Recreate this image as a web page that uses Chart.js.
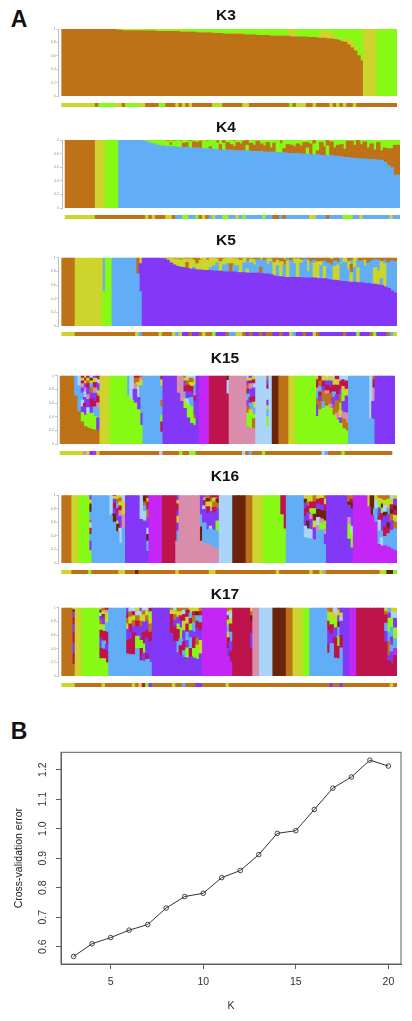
<!DOCTYPE html>
<html lang="en">
<head>
<meta charset="UTF-8">
<title>K3 to K17 admixture and cross-validation error</title>
<script src="https://cdn.jsdelivr.net/npm/chart.js"></script>
<style>
  html, body { margin: 0; padding: 0; background: #fff; }
  body { position: relative; width: 412px; height: 1021px; overflow: hidden; font-family: "Liberation Sans", Arial, sans-serif; }
  canvas { position: absolute; left: 0; }
  canvas.bars { filter: blur(0.4px); }
  canvas.line { filter: blur(0.25px); }
  .title { position: absolute; transform: translate(-50%, -50%); font-weight: bold; font-size: 15.5px; color: #111; }
  .letter { position: absolute; transform: translate(-50%, -50%); font-weight: bold; font-size: 23px; color: #111; }
</style>
</head>
<body>
<div class="letter" style="left:19px;top:19px">A</div>
<div class="letter" style="left:19px;top:731px">B</div>
<canvas id="cvChart" class="line" width="412" height="281" style="top:740px"></canvas>

<script>
// each bar is bottom-up "code percent" segments, "*n" repeats the bar n times
const k3Bars = ["O100*11","O99 Y1*5","O98 G1 Y1*2","O97 G1 Y2*6","O97 G2 Y1*4","O96 G2 Y2*4","O96 G4*3","O95 G3 Y2*3","O95 G5*2","O94 G4 Y2*2",
  "O94 G6*3","O93 G7*3","O92 G8*3","O92 Y2 G6*3","O91 G9*4","O90 G10*4","O89 G11*6","O88 Y12*2","O88 G12*3","O87 G13*3","O86 G14",
  "O86 Y10 G4*2","O85 Y10 G5*2","O84 Y4 G12","O83 Y3 G14","O81 G19","O80 Y4 G16","O76 Y10 G14","O72 Y10 G18","O67 Y6 G27","O60 G40","O52 G48",
  "Y100*4","G100*6"];
const k4Bars = ["O100*9","Y100*3","G100*4","B100*6","B99 G1","B98 G2","B97 G3","B95 G5","B94 G6","B92 G8","B91 G9","B91 G9",
  "B90 G8 O2","B90 G2 O4 G4","B90 G8 O1 G1","B89 G10 O1","B89 G9 O2","B89 O6 G5","B89 O7 G4","B88 G10 O2","B88 O9 G3","B88 O8 G4",
  "B88 O10 G2","B87 G12 O1","B87 G11 O2","B87 O3 G10","B86 G14","B86 G9 O5","B85 O8 G7","B85 G10 O5","B85 O11 G4","B85 O8 G7",
  "B84 O6 G8 O2","B84 O12 G4","B84 O10 G6","B84 O14 G2","B84 G8 O8","B83 O12 G5","B83 O9 G8","B83 O15 G2","B83 O11 G6","B82 O9 G9",
  "B82 O14 G4","B82 O6 G12","B82 O13 G5","B81 G19","B81 G13 O6","B81 O6 G13","B80 O13 G7","B80 O12 G8","B80 O10 G10","B80 O14 G6",
  "B79 O12 G9","B79 O17 G4","B79 G9 O8 G4","B78 O16 G6","B78 G16 O6","B78 O6 G16","B77 O19 G4","B77 O13 G10","B77 G14 O9","B77 O20 G3",
  "B76 O12 G12","B76 O16 G8","B75 O18 G7","B74 O12 G14","B74 O24 G2","B73 O25 G2","B73 O19 G8","B72 O27 G1","B72 O21 G7","B72 O25 G3",
  "B71 O17 G12","B71 O23 G6","B71 O14 G15","B70 O26 G4","B70 O14 G16","B67 O21 G12","B62 O25 G13","B59 O28 G13","B48 O44 G8","B48 O44 G8"];
const k5Bars = ["O100*4","Y100*8","G50 B50","G100*2","B100*7","B76 O24","B50 P41 Y9","P100*5","P99 Y1","P98 O2","P96 Y2 O2",
  "P92 Y7 O1","P89 Y9 O2","P87 Y11 O2","P86 Y10 O2 Y2","P85 Y13 O2","P84 O9 Y5 O2","P83 Y15 O2","P83 B3 Y10 O4","P82 Y9 O9","P82 Y14 O1 Y3",
  "P81 Y18 O1","P81 Y15 O4","P81 B4 Y14 O1","P80 B8 Y11 O1","P80 B12 Y6 O2","P80 Y14 O6","P79 B10 Y9 O2","P79 B12 Y8 O1","P79 O12 Y8 O1","P79 B9 Y10 O2",
  "P78 B10 Y10 O2","P78 Y18 O4","P78 B14 Y7 O1","P77 Y6 B12 O5","P77 B15 Y6 O2","P77 B12 Y8 O3","P77 B20 O3","P76 O10 B10 Y3 O1","P76 B20 O4","P76 B14 Y8 O2",
  "P75 B19 Y4 O2","P73 Y20 O7","P72 B16 Y8 O4","P72 Y22 O6","P71 B18 O8 Y3","P71 Y24 B3 O2","P71 B24 O5","P71 B20 Y7 O2","P71 Y27 O2","P70 B22 Y4 O4",
  "P70 B28 O2","P70 B10 Y16 O4","P70 B24 O6","P70 Y22 B4 O4","P69 Y25 O6","P69 B19 Y6 O6","P69 Y18 B8 O5","P68 B24 O8","P67 B22 O8 Y3","P67 Y20 B8 O5",
  "P66 Y23 B4 O7","P65 B26 G1 B8","P65 B28 Y7","P64 B18 Y12 O6","P64 Y14 O12 B6 O4","P64 B22 Y14","P63 Y22 B10 O5","P63 B32 O5","P62 B26 Y8 O4","P62 B30 O8",
  "P61 B34 O5","P61 Y24 B12 O3","P60 Y20 B16 O4","P59 B10 Y25 O6","P57 Y34 B5 O4","P55 B38 O7","P51 B44 O5","P48 B46 O5 G1"];
const k15Bars = ["O100*4","O70 B30","O47 B38 L15","O32 G14 P8 L10 B10 P8 K6 C4 Y4 C4","O25 G17 P12 C5 P9 L8 K6 P6 Y4 C4 Y4","O23 G22 L8 P12 K7 P10 C6 O4 Y4 C4",
  "O21 G24 P9 C12 P8 O8 B6 Y4 D4 L4","O20 G20 B14 C8 P12 K8 C8 Y6 P4","O20 P18 B14 K8 C10 Y8 P10 L6 C6","Y100*3","G100*5","G70 B30","G64 L36","G60 P20 K8 O8 C4",
  "G50 P18 L14 Y8 O6 C4","G27 P18 B40 Y8 K4 O3","B100*5","B17 C15 G10 B12 O10 B20 Y10 C6","P100*4","P74 K26","P62 K38","P52 G8 Y6 B10 C8 P8 Y4 O4",
  "P38 G20 L8 P10 C10 O6 Y4 L4","P30 G24 B14 P8 C8 Y6 O6 L4","P27 G10 O5 P20 C8 K6 B10 Y8 L6","P100","M100*3","C100*5","C73 L20 D7","K100*5",
  "K25 G20 O10 P8 B10 C7 O6 P6 Y4 L4","K22 G20 Y8 B10 C8 P12 K8 C4 Y4 P4","K22 O15 G6 B10 Y8 C8 P13 L6 C6 Y6","L100*3","L25 G15 B10 Y6 P8 L16 C6 P6 O8","L100",
  "D100*2","O100*3","Y100*2","G100*6","G40 P17 O10 B10 K5 C12 Y6","G50 O12 P8 C6 B8 O8 C8","G52 B10 O16 P6 C8 Y8","G55 O18 K5 C8 P6 Y4 L4","G52 K6 O15 C10 P9 Y8",
  "G42 O12 P14 B8 C10 Y8 L6","G35 K10 O18 P9 C14 Y8 C6","G30 P8 Y10 G12 O12 P8 C12 L8","G22 O14 K10 P16 G14 Y8 C10 L6","G19 O12 K14 P25 Y10 C12 L8","B100*6",
  "B37 L63","B36 P26 K20 C12 O6","P100*6"];
const k16Bars = ["O100*3","Y100*2","G100*3","G18 P14 B10 C9 L8 O4 B12 D12 Y6 P7","B100*5","B70 L30","B60 D12 P8 C8 P6 Y4 C2","B46 D11 Y5 P10 C8 B8 O6 Y6",
  "B29 L22 P18 K8 C7 Y6 O6 Y4","B51 K20 Y20 L9","P100*4","P64 L36","P62 L14 B8 O6 D8 C2","P17 B15 D10 L9 P15 O13 C11 Y5 C5","M100*4","C100*4",
  "K32 B15 P12 Y10 P8 C10 Y5 P8","K100*6","K32 D21 B18 P29","K29 B30 P20 L5 C8 Y4 M4","K27 B22 P24 C10 Y7 D5 O5","K25 B25 L4 P22 K6 Y8 O6 C4","K22 B26 P26 C8 O8 Y6 C4",
  "K19 B28 G15 P18 O8 D6 C6","L100*4","D100*4","O100*2","Y100*3","G100*5","G71 C29","G50 C50","B100*5","B37 L17 P14 C12 P8 D6 Y6","B36 L14 D12 P12 C10 O6 Y10",
  "B35 L14 P15 K8 G8 C10 Y10","B34 P18 Y10 D10 G8 C10 O10","B47 K8 L12 D12 P8 C7 Y6","B49 G10 K6 D12 P8 C10 Y5","B27 P15 K8 G12 D14 C10 Y8 O6","P100*6",
  "P35 G22 K10 P18 D5 O10","P22 G20 L12 P26 D8 C6 O6","M100*4","M83 Y17","M70 D30","M60 B20 L12 Y8","M27 B20 L16 C6 P12 G8 Y6 O5","M25 L12 B10 P16 C10 G8 D6 Y7 O6",
  "M25 B14 C14 P16 D6 L9 Y8 O8","M23 B20 C8 D8 P12 B10 Y7 G6 O6","M20 B28 P14 O10 D6 C8 Y8 L6","M18 B32 O10 Y10 C8 D6 P10 Y6"];
const k17Bars = ["O100*3","O17 C16 P15 C15 P12 C10 P8 D4 Y3","Y100*2","G100*5","G25 C15 P15 C12 Y8 O6 P6 L5 D4 Y4","G25 C14 B12 C14 G10 P10 C5 Y5 O5","G19 C17 P10 C18 B14 Y10 G4 K4 C4",
  "B100*5","B32 C20 P16 Y8 O8 C8 P8","B31 C23 P10 C12 Y10 O8 L6","B31 C32 P10 O8 Y7 C6 L6","B40 G18 P14 C8 O8 L6 Y6","B22 C18 G12 P20 O8 Y8 L6 P6","B21 P12 G14 C16 P16 Y10 O6 L5",
  "B24 C8 P24 C10 P14 O8 Y7 L5","B20 P30 C14 O12 Y10 G8 C6","P100*5","P62 C28 Y6 O4","P50 C22 P10 O8 Y6 L4","P34 B16 C18 G8 P10 Y8 O6","P30 C14 B10 G16 P10 C8 Y6 O6",
  "P27 B10 C13 P16 Y14 C10 L6 O4","P26 G15 P11 B12 C12 Y10 C10 O4","P28 C12 B16 P10 G10 C8 B8 Y8","P26 G14 C16 P8 B14 O10 C6 Y6","P24 G21 O10 P15 C10 B8 D6 Y6","P32 Y20 P14 C12 B10 C6 O6",
  "M100*7","M28 P12 C16 Y8 B10 G8 C6 L6 O6","M20 C16 P14 B14 C12 Y8 L8 Y4 O4","C100*5","C40 P22 C18 D8 O6 Y6","K100*2","L100*4","D100*4","O100*2","Y100*3","G100*2","B100*5",
  "B33 C13 P20 C14 G8 Y6 O6","B47 P14 C14 G10 Y8 O7","B26 C30 P14 G10 Y10 L10","B25 C18 G14 B14 D8 P9 Y8 O4","B41 C18 P21 L6 Y6 P8","P100*2","M100*2","C100*8",
  "C50 P15 B12 C12 O5 Y6","C22 P8 O20 B14 G20 P8 B8","C18 P17 B10 P12 B14 G14 L8 Y7","C30 M10 B14 G16 P14 L8 Y8"];

// population strip under each panel, code and number of samples
const k3Strip = "Y10 O1 G5 Y2 O1 G4 Y2 O4 G2 O3 Y1 O1 Y1 O1 Y1 O6 Y1 G1 Y1 O6 Y2 O12 G1 O1 Y3 O2 Y1 O4 Y1 O1 Y1 O1 Y1 O2 Y1 O12";
const k4Strip = "Y9 O15 Y1 O1 Y1 O3 Y2 O1 B2 G2 B2 G1 O1 Y1 O1 B1 Y1 B2 G2 B2 Y1 B1 G1 B5 G1 B2 O2 B1 O1 B7 Y2 B3 O1 B4 G3 B2 Y1 B8 Y1 B2";
const k5Strip = "Y4 O18 Y1 B1 O5 Y1 O3 Y1 B1 Y1 P2 O1 P2 O1 Y1 O2 G1 P3 O1 B2 Y2 O1 P1 O1 P2 O1 P1 O2 P2 O1 P2 Y1 B1 P2 O1 P2 Y1 O1 P7 O1 P3 G1 P3 O1 G1 P3 O1 B1 Y1";
const k15Strip = "Y7 K1 Y1 P1 M1 Y1 O18 L1 O5 G1 O2 G2 O14 L1 O1 B1 O3 G1 O17 L1 B1 O4 G1 O14";
const k16Strip = "Y3 O5 G1 O8 Y2 O3 D1 O11 Y1 O9 Y2 O18 Y1 O9 Y1 O2 G1 K1 O16 Y1 G1 D2 G1";
const k17Strip = "Y4 O8 Y1 O8 Y1 O1 Y1 C1 G1 P1 O6 Y1 O2 B1 O3 P2 O7 Y1 O30 P1 O2 P1 O14 Y1 O1";

const shareTicks = [0, 0.2, 0.4, 0.6, 0.8, 1];

const kValues = [3, 4, 5, 6, 7, 8, 9, 10, 11, 12, 13, 14, 15, 16, 17, 18, 19, 20];
const cvError = [0.567, 0.61, 0.631, 0.656, 0.675, 0.731, 0.77, 0.781, 0.834, 0.858, 0.912, 0.984, 0.993, 1.065, 1.137, 1.175, 1.232, 1.212];
const kTicks = [5, 10, 15, 20];
const cvTicks = [0.6, 0.7, 0.8, 0.9, 1.0, 1.1, 1.2];

const palette = {
  O: "#be7218", Y: "#cdd52c", G: "#86f915", B: "#62aef6", P: "#8338f8",
  M: "#c427f5", C: "#be144c", K: "#da8dab", L: "#aad4f8", D: "#6b240c"
};

// name, bars, strip, axis x, right, top, bottom, strip top, strip bottom, title x, title y
const panels = [
  ["K3", k3Bars, k3Strip, 58.6, 397, 29, 96, 103.3, 107.3, 226, 15],
  ["K4", k4Bars, k4Strip, 62, 400, 140, 207.3, 215, 218.7, 226, 127],
  ["K5", k5Bars, k5Strip, 58.6, 397, 257.7, 325, 332, 336, 226, 240],
  ["K15", k15Bars, k15Strip, 57, 395, 375.7, 443.3, 450.7, 454.7, 225, 358],
  ["K16", k16Bars, k16Strip, 58.6, 397, 495.3, 563, 570.3, 574.3, 225, 476],
  ["K17", k17Bars, k17Strip, 58.6, 397, 607.7, 675.3, 682.7, 686.7, 225, 594]
];

function expandBars(list) {
  const out = [];
  list.forEach(function (item) {
    const parts = item.split("*");
    const segs = parts[0].split(" ").map(function (s) {
      return { code: s[0], value: Number(s.slice(1)) / 100 };
    });
    for (let n = Number(parts[1] || 1); n > 0; n--) out.push(segs);
  });
  return out;
}

function expandStrip(text) {
  const out = [];
  text.split(" ").forEach(function (s) {
    for (let n = Number(s.slice(1)); n > 0; n--) out.push(s[0]);
  });
  return out;
}

function addCanvas(left, width, top, height, cls) {
  const c = document.createElement("canvas");
  c.width = width;
  c.height = height;
  c.className = cls;
  c.style.top = top + "px";
  c.style.left = left + "px";
  document.body.appendChild(c);
  return c;
}

Chart.defaults.font.family = '"Liberation Sans", Arial, sans-serif';
Chart.defaults.animation = false;
Chart.defaults.responsive = false;
Chart.defaults.plugins.legend.display = false;
Chart.defaults.plugins.tooltip.enabled = false;

panels.forEach(function (p) {
  const bars = expandBars(p[1]);
  const strip = expandStrip(p[2]);
  const axisX = p[3], right = p[4], top = p[5], bottom = p[6];

  // first category stays empty, it makes the gap between axis and bars
  const labels = [""].concat(bars.map(function (b, i) { return String(i + 1); }));
  const layers = Math.max.apply(null, bars.map(function (b) { return b.length; }));
  const datasets = [];
  for (let i = 0; i < layers; i++) {
    datasets.push({
      data: [null].concat(bars.map(function (b) { return b[i] ? b[i].value : null; })),
      backgroundColor: ["#fff"].concat(bars.map(function (b) { return b[i] ? palette[b[i].code] : "#fff"; })),
      barPercentage: 1,
      categoryPercentage: 1,
      borderWidth: 0,
      inflateAmount: 0.6
    });
  }

  const pad = 4;
  new Chart(addCanvas(0, right, Math.round(top) - pad, Math.ceil(bottom - top) + pad * 2, "bars"), {
    type: "bar",
    data: { labels: labels, datasets: datasets },
    options: {
      layout: { padding: { top: pad + top - Math.round(top), bottom: pad } },
      scales: {
        x: { stacked: true, display: false },
        y: {
          stacked: true, min: 0, max: 1,
          afterFit: function (scale) { scale.width = axisX; },
          afterBuildTicks: function (scale) {
            scale.ticks = shareTicks.map(function (v) { return { value: v }; });
          },
          border: { color: "#b7c5cb", width: 1 },
          grid: { drawOnChartArea: false, tickLength: 2, color: "#b7c5cb" },
          ticks: {
            padding: 1, color: "#8a8f90", font: { size: 3.5 },
            callback: function (v) { return String(v); }
          }
        }
      }
    }
  });

  new Chart(addCanvas(0, right, Math.round(p[7]), Math.ceil(p[8] - p[7]), "bars"), {
    type: "bar",
    data: {
      labels: labels,
      datasets: [{
        data: [null].concat(strip.map(function () { return 1; })),
        backgroundColor: ["#fff"].concat(strip.map(function (c) { return palette[c]; })),
        barPercentage: 1,
        categoryPercentage: 1,
        borderWidth: 0,
        inflateAmount: 0.6
      }]
    },
    options: {
      scales: {
        x: { display: false },
        y: { display: false, min: 0, max: 1 }
      },
      layout: { padding: { left: axisX } }
    }
  });

  const t = document.createElement("div");
  t.className = "title";
  t.textContent = p[0];
  t.style.left = p[9] + "px";
  t.style.top = p[10] + "px";
  document.body.appendChild(t);
});

// R style box round the plot
const boxPlugin = {
  id: "box",
  afterDraw: function (chart) {
    const a = chart.chartArea, ctx = chart.ctx;
    ctx.save();
    ctx.strokeStyle = "#566263";
    ctx.lineWidth = 1;
    ctx.strokeRect(a.left, a.top, a.right - a.left, a.bottom - a.top);
    ctx.restore();
  }
};

const tickFont = { size: 10.5 };
new Chart(document.getElementById("cvChart"), {
  type: "line",
  data: {
    datasets: [{
      data: kValues.map(function (k, i) { return { x: k, y: cvError[i] }; }),
      borderColor: "#333",
      borderWidth: 1,
      pointRadius: 2.3,
      pointBorderWidth: 0.9,
      pointBorderColor: "#333",
      pointBackgroundColor: "rgba(0,0,0,0)",
      tension: 0
    }]
  },
  options: {
    layout: { padding: { top: 7.3, right: 11 } },
    scales: {
      x: {
        type: "linear", min: 2.32, max: 20.68,
        afterFit: function (scale) { scale.height = 57; },
        afterBuildTicks: function (scale) {
          scale.ticks = kTicks.map(function (v) { return { value: v }; });
        },
        border: { color: "#566263" },
        grid: { drawOnChartArea: false, tickLength: 5, color: "#566263" },
        ticks: { padding: 7, color: "#333", font: tickFont, maxRotation: 0, callback: function (v) { return String(v); } },
        title: { display: true, text: "K", color: "#333", font: tickFont, padding: { top: 0, bottom: 8.7 } }
      },
      y: {
        min: 0.5414, max: 1.2586,
        afterFit: function (scale) { scale.width = 61; },
        afterBuildTicks: function (scale) {
          scale.ticks = cvTicks.map(function (v) { return { value: v }; });
        },
        border: { color: "#566263" },
        grid: { drawOnChartArea: false, tickLength: 5, color: "#566263" },
        ticks: { padding: 6, color: "#333", font: tickFont, minRotation: 90, maxRotation: 90, crossAlign: "center", callback: function (v) { return v.toFixed(1); } },
        title: { display: true, text: "Cross-validation error", color: "#222", font: tickFont, padding: { top: 12.7, bottom: 0 } }
      }
    }
  },
  plugins: [boxPlugin]
});
</script>
</body>
</html>
